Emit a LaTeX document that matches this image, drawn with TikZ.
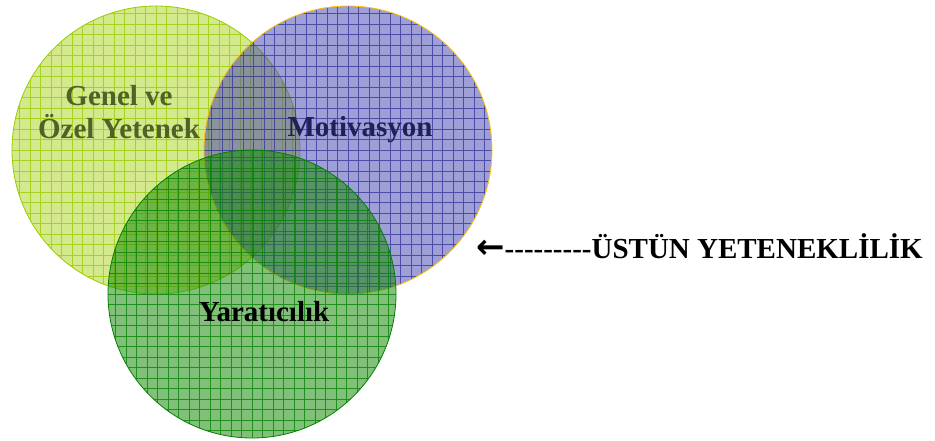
\documentclass[tikz,border=0pt]{standalone}
\usepackage{fontspec}
\setmainfont{Liberation Serif}
\newfontfamily\arrowfont{DejaVu Sans}

\definecolor{limefill}{HTML}{A9D119}
\definecolor{limeline}{HTML}{99CC00}
\definecolor{bluefill}{HTML}{4040B0}
\definecolor{blueline}{HTML}{333399}
\definecolor{goldline}{HTML}{FFC000}
\definecolor{greenfill}{HTML}{1A8C0A}
\definecolor{greenline}{HTML}{008000}
\definecolor{olivetext}{HTML}{4F6228}
\definecolor{navytext}{HTML}{1F1F5A}

\newcommand{\hy}{\mbox{-}}

\begin{document}
\begin{tikzpicture}[x=1pt,y=1pt,
    venn/.style={circle, minimum size=288pt, inner sep=0pt, line width=0.8pt},
    gridded/.style={path picture={\draw[#1, line width=0.55pt, draw opacity=0.75, step=10.5pt]
      (path picture bounding box.south west) grid (path picture bounding box.north east);}},
    vtext/.style={font=\bfseries\fontsize{29}{33}\selectfont, anchor=base}]

    \useasboundingbox (0,0) rectangle (935,-441);

    % the three sets
    \node[venn, draw=limeline, fill=limefill, fill opacity=0.5, gridded=limeline] (yetenek) at (156,-150) {};
    \node[venn, draw=goldline, fill=bluefill, fill opacity=0.5, gridded=blueline] (motivasyon) at (348,-150) {};
    \node[venn, draw=greenline, fill=greenfill, fill opacity=0.55, gridded=greenline] (yaraticilik) at (252,-294) {};

    % set names
    \node[vtext, text=olivetext] (genel) at (119,-106) {Genel ve};
    \node[vtext, text=olivetext] (ozel) at (119,-139) {Özel Yetenek};
    \node[vtext, text=navytext] (mot) at (360,-137) {Motivasyon};
    \node[vtext] (yar) at (264,-321) {Yaratıcılık};

    \node[vtext, anchor=base west, inner sep=0pt] (ustun) at (476,-258)
      {{\arrowfont\bfseries\fontsize{34}{36}\selectfont ←}\hy\hy\hy\hy\hy\hy\hy\hy\hy ÜSTÜN YETENEKLİLİK};

\end{tikzpicture}
\end{document}
